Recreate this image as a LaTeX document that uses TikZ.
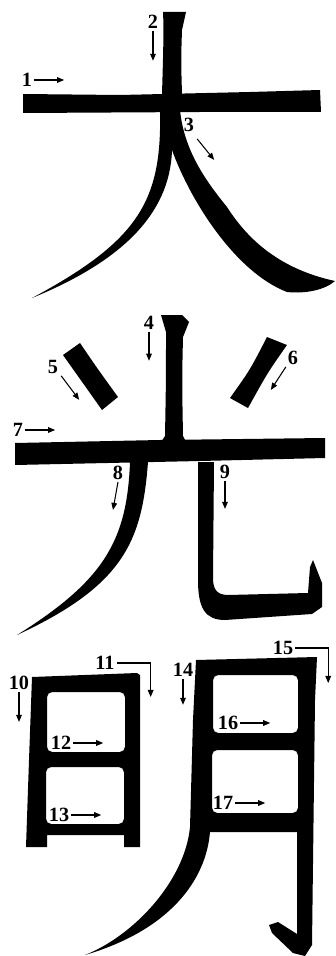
\documentclass[tikz,border=0pt]{standalone}
\usepackage{fontspec}
\setmainfont{Liberation Serif}
\usetikzlibrary{arrows.meta}

\begin{document}
\begin{tikzpicture}[
    x=0.02cm, y=-0.02cm,
    ink/.style={fill=black, draw=none},
    num/.style={font=\bfseries\fontsize{11.5}{12}\selectfont, inner sep=1pt},
    flow/.style={-{Triangle[length=4pt, width=3.2pt]}, line width=0.6pt}]
  \useasboundingbox (0,0) rectangle (335,956);
  % da
  \fill[ink] (23,94) -- (120,95) -- (250,92) -- (320,90) -- (321,112) -- (200,112) -- (23,113) -- cycle;
  \fill[ink] (163,12) -- (186,12) -- (182,30) .. controls (181,60) .. (182,94) -- (162,94)
    .. controls (163,60) and (164,30) .. (163,12);
  \fill[ink] (160,110) .. controls (162,200) and (140,240) .. (32,298)
    .. controls (120,262) and (170,215) .. (172,150)
    .. controls (190,200) and (235,272) .. (287,292)
    .. controls (305,294) and (325,290) .. (335,281)
    .. controls (275,268) and (245,235) .. (227,207)
    .. controls (205,180) and (184,150) .. (180,110) -- cycle;
  % guang
  \fill[ink] (161,315) -- (182,315) -- (189,322) -- (183,337) .. controls (182,380) .. (183,436)
    -- (186,442) -- (161,442) -- (165,436) .. controls (166,380) .. (166,332) -- cycle;
  \fill[ink] (63,355) -- (80,343) .. controls (97,368) .. (118,397) -- (102,410)
    .. controls (82,382) .. (63,355);
  \fill[ink] (267,337) -- (287,345) .. controls (268,372) .. (248,408) -- (230,398)
    .. controls (250,370) .. (267,337);
  \fill[ink] (15,443) -- (160,440) -- (325,438) -- (325,458) -- (200,461) -- (15,465) -- cycle;
  \fill[ink] (130,462) .. controls (127,540) and (105,580) .. (17,635)
    .. controls (125,585) and (142,540) .. (148,462) -- cycle;
  \fill[ink] (198,462) -- (198,580) .. controls (198,608) and (205,620) .. (225,620) -- (312,614)
    -- (322,607) -- (322,583) -- (313,560) -- (310,567) -- (308,593) -- (228,595)
    .. controls (216,595) and (213,588) .. (213,578) -- (214,462) -- cycle;
  % ming
  \fill[ink, even odd rule] (32,677) -- (137,673) -- (140,675) -- (140,847) -- (124,847) -- (124,835)
    -- (47,835) -- (47,847) -- (26,847) -- (29,760) -- cycle
    {[rounded corners=3] (47,692) rectangle (125,752) (46,767) rectangle (124,824)};
  \fill[ink, even odd rule] (196,660) -- (317,657) -- (315,700) -- (312,945) -- (305,956) -- (293,953)
    -- (272,933) -- (269,925) -- (278,922) -- (297,934) -- (297,832) -- (210,832)
    .. controls (206,880) and (170,930) .. (85,955)
    .. controls (135,935) and (185,880) .. (190,827) -- (193,720) -- cycle
    {[rounded corners=3] (213,675) rectangle (298,733) (212,750) rectangle (298,813)};
  % stroke order
  \node[num] (n1) at (27,80) {1};
  \node[num] (n2) at (153,22) {2};
  \node[num] (n3) at (189,125) {3};
  \node[num] (n4) at (149,323) {4};
  \node[num] (n5) at (53,367) {5};
  \node[num] (n6) at (293,358) {6};
  \node[num] (n7) at (18,430) {7};
  \node[num] (n8) at (118,473) {8};
  \node[num] (n9) at (225,472) {9};
  \node[num] (n10) at (19,683) {10};
  \node[num] (n11) at (105,663) {11};
  \node[num] (n12) at (61,743) {12};
  \node[num] (n13) at (59,815) {13};
  \node[num] (n14) at (183,670) {14};
  \node[num] (n15) at (283,648) {15};
  \node[num] (n16) at (228,723) {16};
  \node[num] (n17) at (223,803) {17};
  \draw[flow] (n1.east) -- ++(30,0);
  \draw[flow] (n2.south) -- ++(0,30);
  \draw[flow] ([shift={(1,5)}]n3.south east) -- ++(17,21);
  \draw[flow] (n4.south) -- ++(0,29);
  \draw[flow] ([shift={(1,0)}]n5.south east) -- ++(18,24);
  \draw[flow] (n6.south west) -- ++(-15,23);
  \draw[flow] (n7.east) -- ++(30,0);
  \draw[flow] (n8.south) -- ++(-5,28);
  \draw[flow] (n9.south) -- ++(0,28);
  \draw[flow] (n10.south) -- ++(0,30);
  \draw[flow] (n11.east) -| ++(34,34);
  \draw[flow] (n12.east) -- ++(30,0);
  \draw[flow] (n13.east) -- ++(30,0);
  \draw[flow] (n14.south) -- ++(0,26);
  \draw[flow] (n15.east) -| ++(33,35);
  \draw[flow] (n16.east) -- ++(30,0);
  \draw[flow] (n17.east) -- ++(30,0);
\end{tikzpicture}
\end{document}
